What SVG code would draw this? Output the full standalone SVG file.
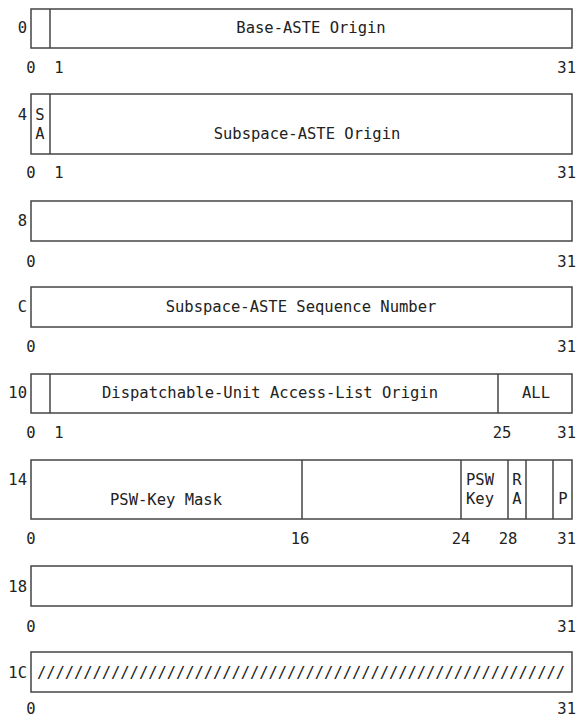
<svg xmlns="http://www.w3.org/2000/svg" width="579" height="719" viewBox="0 0 579 719">
<style>
.b{fill:#fff;stroke:#444;stroke-width:1.5}
.d{stroke:#444;stroke-width:1.5}
text{font-family:"DejaVu Sans Mono","Liberation Mono",monospace;font-size:15.5px;fill:#222}
.m{text-anchor:middle}
.e{text-anchor:end}
</style>
<g id="row0">
<rect class="b" x="31" y="9" width="541" height="39"/>
<line class="d" x1="50" y1="9" x2="50" y2="48"/>
<text class="e" x="27" y="33">0</text>
<text class="m" x="311" y="33">Base-ASTE Origin</text>
<text class="m" x="31" y="73">0</text>
<text class="m" x="59" y="73">1</text>
<text class="e" x="576" y="73">31</text>
</g>
<g id="row4">
<rect class="b" x="31" y="94" width="541" height="60"/>
<line class="d" x1="50" y1="94" x2="50" y2="154"/>
<text class="e" x="27" y="120">4</text>
<text class="m" x="40" y="120">S</text>
<text class="m" x="40" y="139">A</text>
<text class="m" x="307" y="139">Subspace-ASTE Origin</text>
<text class="m" x="31" y="178">0</text>
<text class="m" x="59" y="178">1</text>
<text class="e" x="576" y="178">31</text>
</g>
<g id="row8">
<rect class="b" x="31" y="201" width="541" height="40"/>
<text class="e" x="27" y="226">8</text>
<text class="m" x="31" y="267">0</text>
<text class="e" x="576" y="267">31</text>
</g>
<g id="rowC">
<rect class="b" x="31" y="287" width="541" height="40"/>
<text class="e" x="27" y="312">C</text>
<text class="m" x="301" y="312">Subspace-ASTE Sequence Number</text>
<text class="m" x="31" y="352">0</text>
<text class="e" x="576" y="352">31</text>
</g>
<g id="row10">
<rect class="b" x="31" y="374" width="541" height="39"/>
<line class="d" x1="50" y1="374" x2="50" y2="413"/>
<line class="d" x1="498" y1="374" x2="498" y2="413"/>
<text class="e" x="27" y="398">10</text>
<text class="m" x="270" y="398">Dispatchable-Unit Access-List Origin</text>
<text class="m" x="536" y="398">ALL</text>
<text class="m" x="31" y="438">0</text>
<text class="m" x="59" y="438">1</text>
<text class="m" x="502" y="438">25</text>
<text class="e" x="576" y="438">31</text>
</g>
<g id="row14">
<rect class="b" x="31" y="460" width="541" height="59"/>
<line class="d" x1="302" y1="460" x2="302" y2="519"/>
<line class="d" x1="461" y1="460" x2="461" y2="519"/>
<line class="d" x1="508" y1="460" x2="508" y2="519"/>
<line class="d" x1="526" y1="460" x2="526" y2="519"/>
<line class="d" x1="553" y1="460" x2="553" y2="519"/>
<text class="e" x="27" y="485">14</text>
<text class="m" x="166" y="505">PSW-Key Mask</text>
<text class="m" x="480" y="485">PSW</text>
<text class="m" x="480" y="504">Key</text>
<text class="m" x="517" y="485">R</text>
<text class="m" x="517" y="504">A</text>
<text class="m" x="563" y="504">P</text>
<text class="m" x="31" y="544">0</text>
<text class="m" x="300" y="544">16</text>
<text class="m" x="461" y="544">24</text>
<text class="m" x="508" y="544">28</text>
<text class="e" x="576" y="544">31</text>
</g>
<g id="row18">
<rect class="b" x="31" y="566" width="541" height="40"/>
<text class="e" x="27" y="592">18</text>
<text class="m" x="31" y="632">0</text>
<text class="e" x="576" y="632">31</text>
</g>
<g id="row1C">
<rect class="b" x="31" y="652" width="541" height="40"/>
<text class="e" x="27" y="678">1C</text>
<text x="37" y="678" textLength="528" lengthAdjust="spacing">/////////////////////////////////////////////////////////</text>
<text class="m" x="31" y="714">0</text>
<text class="e" x="576" y="714">31</text>
</g>
<g id="connectors"/>
</svg>
